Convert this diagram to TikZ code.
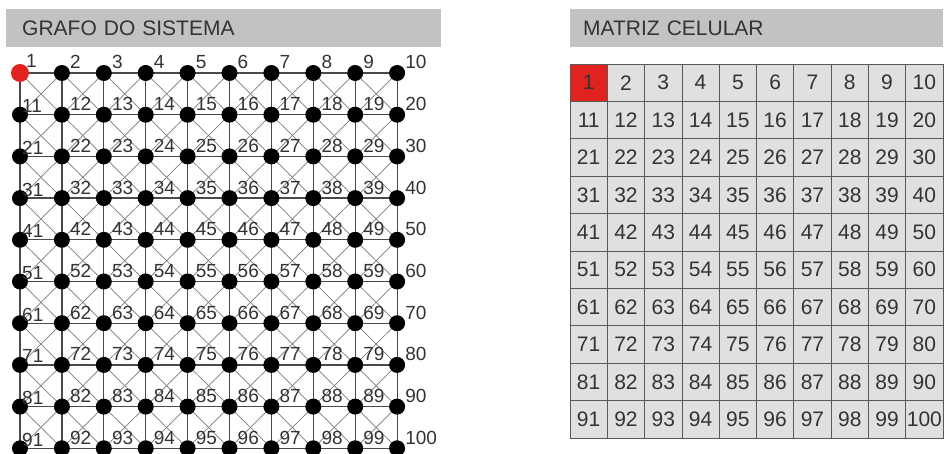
\documentclass[tikz,border=0pt]{standalone}
\usepackage{fontspec}
\setmainfont{Liberation Sans}
\usetikzlibrary{positioning}
\pgfdeclarelayer{background}
\pgfsetlayers{background,main}
\definecolor{BarGray}{HTML}{C2C2C2}
\definecolor{InkGray}{HTML}{333333}
\definecolor{EdgeGray}{HTML}{4A4A4A}
\definecolor{DiagGray}{HTML}{7A7A7A}
\definecolor{StartRed}{HTML}{E0231E}
\definecolor{CellFill}{HTML}{E0E0DE}
\definecolor{CellLine}{HTML}{5A5A5A}
\tikzset{
  titlebar/.style={fill=BarGray, anchor=north west, inner ysep=0pt,
                   minimum height=38, align=left, text=InkGray,
                   font=\fontsize{21}{21}\selectfont},
  vertex/.style={circle, fill=black, minimum size=16, inner sep=0pt},
  start/.style={vertex, fill=StartRed, minimum size=18},
  vlabel/.style={anchor=base west, inner sep=0pt, text=InkGray,
                 font=\fontsize{19}{19}\selectfont},
  edge/.style={draw=EdgeGray, line width=1.2},
  diag/.style={draw=DiagGray, line width=0.7},
  cell/.style={draw=CellLine, fill=CellFill, line width=0.8,
               minimum width=37.3, minimum height=37.4, inner sep=0pt,
               text=InkGray, font=\fontsize{21}{21}\selectfont},
  redcell/.style={cell, fill=StartRed}
}

\begin{document}
\begin{tikzpicture}[x=1pt, y=-1pt]
  \useasboundingbox (0,0) rectangle (945,454);

  % title bars
  \node[titlebar, inner xsep=16, text width=403] (grafo) at (6,9)
    {GRAFO DO SISTEMA};
  \node[titlebar, inner xsep=13, text width=347] (matriz) at (570,9)
    {MATRIZ CELULAR};

  % graph vertices
  \foreach \r in {0,...,9} {
    \foreach \c in {0,...,9} {
      \pgfmathtruncatemacro{\n}{10*\r+\c+1}
      \ifnum\n=1
        \node[start] (v\n) at (20+41.9*\c, 73+41.7*\r) {};
      \else
        \node[vertex] (v\n) at (20+41.9*\c, 73+41.7*\r) {};
      \fi
    }
  }

  % vertex numbers
  \foreach \n in {1,...,100} {
    \pgfmathtruncatemacro{\col}{mod(\n-1,10)}
    \ifnum\col=0
      \ifnum\n=1
        \node[vlabel] (l\n) at ([xshift=6pt,yshift=5pt]v\n.center) {\n};
      \else
        \node[vlabel] (l\n) at ([xshift=2pt,yshift=2pt]v\n.center) {\n};
      \fi
    \else
      \node[vlabel] (l\n) at ([xshift=8pt,yshift=4pt]v\n.center) {\n};
    \fi
  }

  % king moves: rows, columns and both diagonals
  \begin{pgfonlayer}{background}
    \foreach \r in {0,...,9} {
      \foreach \c in {0,...,8} {
        \pgfmathtruncatemacro{\a}{10*\r+\c+1}
        \pgfmathtruncatemacro{\b}{\a+1}
        \draw[edge] (v\a.center) -- (v\b.center);
      }
    }
    \foreach \r in {0,...,8} {
      \foreach \c in {0,...,9} {
        \pgfmathtruncatemacro{\a}{10*\r+\c+1}
        \pgfmathtruncatemacro{\b}{\a+10}
        \draw[edge] (v\a.center) -- (v\b.center);
      }
    }
    \foreach \r in {0,...,8} {
      \foreach \c in {0,...,8} {
        \pgfmathtruncatemacro{\a}{10*\r+\c+1}
        \pgfmathtruncatemacro{\b}{\a+11}
        \pgfmathtruncatemacro{\p}{\a+1}
        \pgfmathtruncatemacro{\q}{\a+10}
        \draw[diag] (v\a.center) -- (v\b.center);
        \draw[diag] (v\p.center) -- (v\q.center);
      }
    }
  \end{pgfonlayer}

  % cell matrix
  \foreach \r in {0,...,9} {
    \foreach \c in {0,...,9} {
      \pgfmathtruncatemacro{\n}{10*\r+\c+1}
      \ifnum\n=1
        \node[redcell] (c\n) at (588.65+37.3*\c, 82.7+37.4*\r) {\n};
      \else
        \node[cell] (c\n) at (588.65+37.3*\c, 82.7+37.4*\r) {\n};
      \fi
    }
  }
\end{tikzpicture}
\end{document}
